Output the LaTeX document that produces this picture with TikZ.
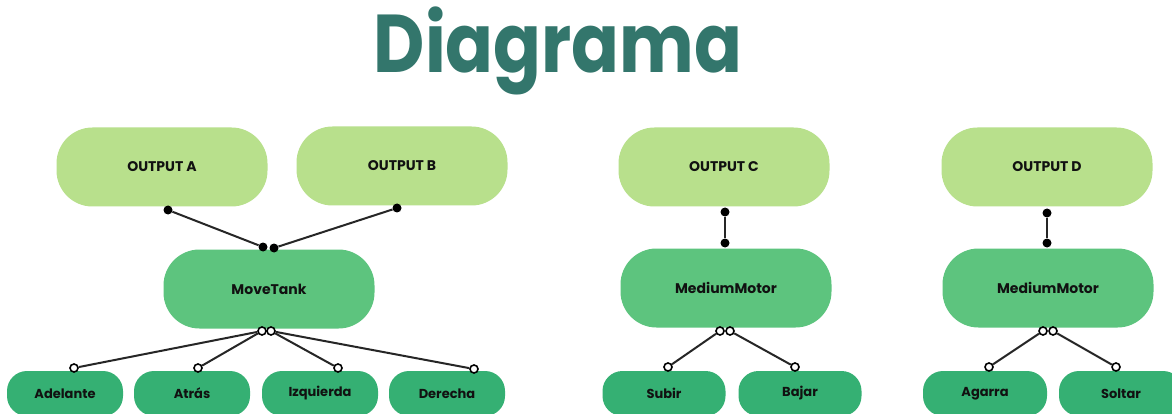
\documentclass[tikz,border=0pt]{standalone}
\usepackage{fontspec}
\setmainfont{Poppins}[BoldFont={* Bold}]
\newfontfamily\titlefont{Poppins Bold}
\newfontfamily\boxfont{Poppins Bold}
\definecolor{teal1}{HTML}{33766C}
\definecolor{lightg}{HTML}{B8E08C}
\definecolor{midg}{HTML}{5DC47E}
\definecolor{darkg}{HTML}{35B073}
\definecolor{ink}{HTML}{111111}
\tikzset{
  boxtext/.style={text=ink, font=\boxfont\fontsize{14}{16}\selectfont},
  outbox/.style={boxtext, fill=lightg, rounded corners=36pt, minimum width=211pt, minimum height=79pt, inner sep=0pt},
  motbox/.style={boxtext, fill=midg, rounded corners=36pt, minimum width=211pt, minimum height=79pt, inner sep=0pt},
  leafbox/.style={text=ink, font=\boxfont\fontsize{13}{15}\selectfont, fill=darkg, rounded corners=20pt, minimum width=116pt, minimum height=45pt, inner sep=0pt},
  fdot/.style={circle, fill=black, minimum size=9pt, inner sep=0pt},
  odot/.style={circle, draw=black, fill=white, line width=1.6pt, minimum size=8pt, inner sep=0pt},
  conn/.style={draw=black!85, line width=2pt},
}
\begin{document}
\begin{tikzpicture}[x=1pt,y=-1pt]
\useasboundingbox[fill=white] (0,0) rectangle (1172,414);
\node[font=\titlefont\fontsize{82}{82}\selectfont, text=teal1, anchor=base, inner sep=0pt] (title) at (558,73) {\scalebox{0.86}[1]{Diagrama}};
% top boxes
\node[outbox] (oa) at (162,167) {OUTPUT A};
\node[outbox] (ob) at (402,166) {OUTPUT B};
\node[outbox] (oc) at (724,167) {OUTPUT C};
\node[outbox] (od) at (1047,167) {OUTPUT D};
% motors
\node[motbox] (mt) at (269,289) {MoveTank};
\node[motbox] (mc) at (726,288) {MediumMotor};
\node[motbox] (md) at (1048,288) {MediumMotor};
% leaves
\node[leafbox] (l1) at (65,393.5) {Adelante};
\node[leafbox] (l2) at (192,393.5) {Atrás};
\node[leafbox] (l3) at (320,393.5) {Izquierda};
\node[leafbox] (l4) at (447,393.5) {Derecha};
\node[leafbox, minimum width=123pt] (l5) at (664,393.5) {Subir};
\node[leafbox, minimum width=123pt] (l6) at (800,393.5) {Bajar};
\node[leafbox, minimum width=124pt] (l7) at (985,393.5) {Agarra};
\node[leafbox, minimum width=124pt] (l8) at (1121,393.5) {Soltar};
% filled dots
\node[fdot] (da) at (168,210) {};
\node[fdot] (db) at (397,208) {};
\node[fdot] (dm1) at (263,247) {};
\node[fdot] (dm2) at (274,248) {};
\node[fdot] (dc1) at (725,212) {};
\node[fdot] (dc2) at (725,243) {};
\node[fdot] (dd1) at (1047,213) {};
\node[fdot] (dd2) at (1047,243) {};
\draw[conn] (da) -- (dm1);
\draw[conn] (db) -- (dm2);
\draw[conn] (dc1) -- (dc2);
\draw[conn] (dd1) -- (dd2);
% open circles
\node[odot] (t1) at (262,331) {};
\node[odot] (t2) at (271,331) {};
\node[odot] (p1) at (74,368) {};
\node[odot] (p2) at (198,368) {};
\node[odot] (p3) at (338,368) {};
\node[odot] (p4) at (474,369) {};
\node[odot] (c1) at (720,331) {};
\node[odot] (c2) at (730,331) {};
\node[odot] (q1) at (668,367) {};
\node[odot] (q2) at (795,367) {};
\node[odot] (e1) at (1043,331) {};
\node[odot] (e2) at (1053,331) {};
\node[odot] (r1) at (989,367) {};
\node[odot] (r2) at (1116,367) {};
\draw[conn] (t1) -- (p1);
\draw[conn] (t1) -- (p2);
\draw[conn] (t2) -- (p3);
\draw[conn] (t2) -- (p4);
\draw[conn] (c1) -- (q1);
\draw[conn] (c2) -- (q2);
\draw[conn] (e1) -- (r1);
\draw[conn] (e2) -- (r2);
\end{tikzpicture}
\end{document}
